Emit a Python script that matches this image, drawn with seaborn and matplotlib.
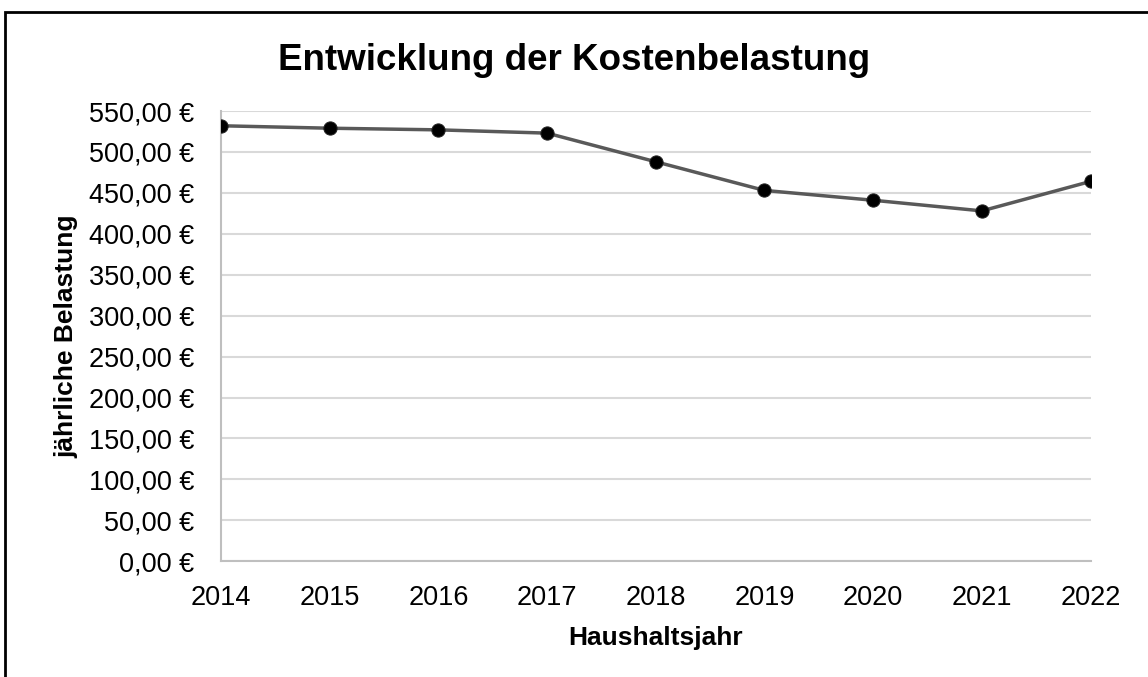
import pandas as pd
import matplotlib
matplotlib.use('Agg')
import matplotlib.pyplot as plt
import seaborn as sns
from matplotlib.ticker import FuncFormatter
from matplotlib.patches import Rectangle

years = [2014, 2015, 2016, 2017, 2018, 2019, 2020, 2021, 2022]
belastung = [532, 529, 527, 523, 488, 453, 441, 428, 464]

df = pd.DataFrame({'Haushaltsjahr': years, 'Belastung': belastung})

sns.set_style('white')
plt.rcParams['font.family'] = ['Liberation Sans', 'DejaVu Sans']
plt.rcParams['text.color'] = 'black'
plt.rcParams['axes.labelcolor'] = 'black'

fig = plt.figure(figsize=(11.48, 6.77), dpi=100)
ax = fig.add_axes([0.1925, 0.171, 0.7575, 0.665])

sns.lineplot(data=df, x='Haushaltsjahr', y='Belastung', ax=ax,
             color='#595959', linewidth=2.5, marker='o', markersize=9.5,
             markerfacecolor='black', markeredgecolor='#202020', zorder=3)

ax.set_xlim(2014, 2022)
ax.set_ylim(0, 550)
ax.set_xticks(years)
ax.set_yticks(range(0, 551, 50))
ax.yaxis.set_major_formatter(FuncFormatter(lambda v, p: f"{v:.2f}".replace('.', ',') + " €"))
ax.grid(axis='y', color='#d9d9d9', linewidth=1.5)
ax.grid(axis='x', visible=False)
ax.set_axisbelow(True)

for s in ['top', 'right']:
    ax.spines[s].set_visible(False)
for s in ['left', 'bottom']:
    ax.spines[s].set_color('#bfbfbf')
    ax.spines[s].set_linewidth(1.5)

ax.tick_params(axis='both', length=0, labelsize=19.5, colors='black')
ax.tick_params(axis='x', pad=17)
ax.tick_params(axis='y', pad=19)

ax.set_xlabel('Haushaltsjahr', fontsize=19, fontweight='bold', labelpad=11)
ax.set_ylabel('jährliche Belastung', fontsize=19, fontweight='bold', labelpad=8)
fig.suptitle('Entwicklung der Kostenbelastung', fontsize=26.5, fontweight='bold',
             color='black', x=0.5, y=0.937)

fig.patches.append(Rectangle((5 / 1148, -0.1), 1.2, 1.1 - 12 / 677,
                             transform=fig.transFigure, fill=False,
                             edgecolor='black', linewidth=2, clip_on=False))

fig.savefig('out.png', dpi=100)
